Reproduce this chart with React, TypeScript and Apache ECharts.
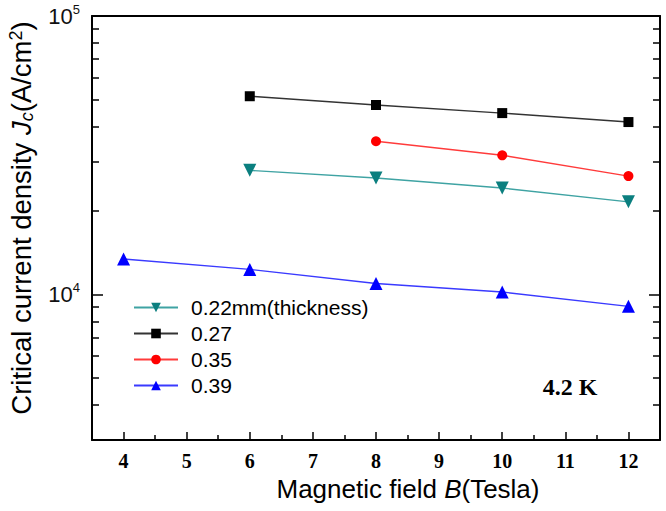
import React, { useEffect, useRef } from "react";
import * as echarts from "echarts";

const x022 = [6, 8, 10, 12];
const jc022 = [27900, 26200, 24100, 21500];
const x027 = [6, 8, 10, 12];
const jc027 = [51500, 47900, 44800, 41600];
const x035 = [8, 10, 12];
const jc035 = [35500, 31600, 26600];
const x039 = [4, 6, 8, 10, 12];
const jc039 = [13400, 12300, 10950, 10200, 9060];

const xMajor = [4, 5, 6, 7, 8, 9, 10, 11, 12];
const xMinor = [4.5, 5.5, 6.5, 7.5, 8.5, 9.5, 10.5, 11.5];
const yMajor = [10000, 100000];
const yMinor = [4000, 5000, 6000, 7000, 8000, 9000, 20000, 30000, 40000, 50000, 60000, 70000, 80000, 90000];

const seriesNames = ["0.22mm(thickness)", "0.27", "0.35", "0.39"];

const pair = (xs: number[], ys: number[]) => xs.map((x, i) => [x, ys[i]]);

const SANS = "Arial, 'Liberation Sans', sans-serif";
const SERIF = "'Times New Roman', 'Liberation Serif', serif";

export default function App() {
  const ref = useRef<HTMLDivElement>(null);
  useEffect(() => {
    if (!ref.current) return;
    const chart = echarts.init(ref.current, null, { renderer: "svg" });
    const grid = { left: 92, right: 6, top: 16, bottom: 71, containLabel: false, outerBoundsMode: "none" };
    const yRange = { type: "log" as const, logBase: 10, min: 3000, max: 100000 };
    const xRange = { type: "value" as const, min: 3.5, max: 12.5 };
    const line = { show: true, lineStyle: { color: "#000", width: 2 } };
    chart.setOption({
      animation: false,
      backgroundColor: "#fff",
      grid: [grid, grid],
      xAxis: [
        {
          ...xRange,
          gridIndex: 0,
          position: "bottom",
          axisLine: line,
          axisTick: { inside: true, length: 8, customValues: xMajor, lineStyle: { color: "#000", width: 1.5 } },
          axisLabel: {
            customValues: xMajor,
            margin: 11,
            color: "#000",
            fontFamily: SERIF,
            fontWeight: "bold",
            fontSize: 20,
          },
          splitLine: { show: false },
        },
        {
          ...xRange,
          gridIndex: 0,
          position: "top",
          axisLine: line,
          axisTick: { show: false },
          axisLabel: { show: false },
          splitLine: { show: false },
        },
        {
          ...xRange,
          gridIndex: 1,
          position: "bottom",
          axisLine: { show: false },
          axisTick: { inside: true, length: 5, customValues: xMinor, lineStyle: { color: "#000", width: 1.5 } },
          axisLabel: { show: false },
          splitLine: { show: false },
        },
      ],
      yAxis: [
        {
          ...yRange,
          gridIndex: 0,
          position: "left",
          axisLine: line,
          axisTick: { inside: true, length: 11, customValues: yMajor, lineStyle: { color: "#000", width: 1.5 } },
          axisLabel: {
            customValues: yMajor,
            margin: 12,
            color: "#111",
            fontFamily: SANS,
            formatter: (v: number) => (Math.abs(v - 10000) < 1 ? "{b|10}{s|4}" : "{b|10}{s|5}"),
            rich: {
              b: { fontSize: 22, fontFamily: SANS, color: "#111" },
              s: { fontSize: 13, fontFamily: SANS, color: "#111", padding: [0, 0, 13, 0] },
            },
          },
          splitLine: { show: false },
          name: "Critical current density {i|J}{sub|c}(A/cm{sup|2})",
          nameLocation: "middle",
          nameRotate: 90,
          nameGap: 56,
          nameTextStyle: {
            fontSize: 27.5,
            fontFamily: SANS,
            color: "#000",
            padding: [0, 0, 0, 20],
            rich: {
              i: { fontSize: 27.5, fontFamily: SANS, fontStyle: "italic", color: "#000" },
              sub: { fontSize: 18, fontFamily: SANS, fontStyle: "italic", color: "#000", padding: [11, 0, 0, 0] },
              sup: { fontSize: 18, fontFamily: SANS, color: "#000", padding: [0, 0, 11, 0] },
            },
          },
        },
        {
          ...yRange,
          gridIndex: 0,
          position: "right",
          axisLine: line,
          axisTick: { inside: true, length: 11, customValues: yMajor, lineStyle: { color: "#000", width: 1.5 } },
          axisLabel: { show: false },
          splitLine: { show: false },
        },
        {
          ...yRange,
          gridIndex: 1,
          position: "left",
          axisLine: { show: false },
          axisTick: { inside: true, length: 7, customValues: yMinor, lineStyle: { color: "#000", width: 1.5 } },
          axisLabel: { show: false },
          splitLine: { show: false },
        },
        {
          ...yRange,
          gridIndex: 1,
          position: "right",
          axisLine: { show: false },
          axisTick: { inside: true, length: 7, customValues: yMinor, lineStyle: { color: "#000", width: 1.5 } },
          axisLabel: { show: false },
          splitLine: { show: false },
        },
      ],
      legend: {
        orient: "vertical",
        left: 133,
        top: 297,
        padding: 0,
        itemWidth: 44,
        itemHeight: 12,
        itemGap: 5,
        data: seriesNames,
        textStyle: { fontSize: 21, fontFamily: SANS, color: "#000", lineHeight: 21, padding: [0, 0, 0, 8] },
      },
      series: [
        {
          name: seriesNames[0],
          type: "line",
          xAxisIndex: 0,
          yAxisIndex: 0,
          data: pair(x022, jc022),
          symbol: "triangle",
          symbolRotate: 180,
          symbolSize: 13,
          itemStyle: { color: "#0b7f7f" },
          lineStyle: { color: "#3fa3a3", width: 1.4 },
        },
        {
          name: seriesNames[1],
          type: "line",
          xAxisIndex: 0,
          yAxisIndex: 0,
          data: pair(x027, jc027),
          symbol: "rect",
          symbolSize: 10,
          itemStyle: { color: "#000" },
          lineStyle: { color: "#333", width: 1.4 },
        },
        {
          name: seriesNames[2],
          type: "line",
          xAxisIndex: 0,
          yAxisIndex: 0,
          data: pair(x035, jc035),
          symbol: "circle",
          symbolSize: 10,
          itemStyle: { color: "#ff0000" },
          lineStyle: { color: "#ff3b3b", width: 1.4 },
        },
        {
          name: seriesNames[3],
          type: "line",
          xAxisIndex: 0,
          yAxisIndex: 0,
          data: pair(x039, jc039),
          symbol: "triangle",
          symbolSize: 13,
          itemStyle: { color: "#0000ff" },
          lineStyle: { color: "#3a3aff", width: 1.4 },
        },
      ],
      graphic: [
        {
          type: "text",
          x: 408,
          y: 489,
          style: {
            text: "Magnetic field {i|B}(Tesla)",
            fontSize: 26,
            fontFamily: SANS,
            fill: "#000",
            align: "center",
            verticalAlign: "middle",
            rich: {
              i: { fontSize: 26, fontFamily: SANS, fontStyle: "italic", fill: "#000" },
            },
          },
        },
        {
          type: "text",
          x: 570,
          y: 387,
          style: {
            text: "4.2 K",
            fontSize: 24,
            fontFamily: SERIF,
            fontWeight: "bold",
            fill: "#000",
            align: "center",
            verticalAlign: "middle",
          },
        },
      ],
    });
    return () => chart.dispose();
  }, []);
  return (
    <div
      ref={ref}
      style={{ position: "fixed", left: 0, top: 0, width: 666, height: 511, background: "#fff" }}
    />
  );
}
